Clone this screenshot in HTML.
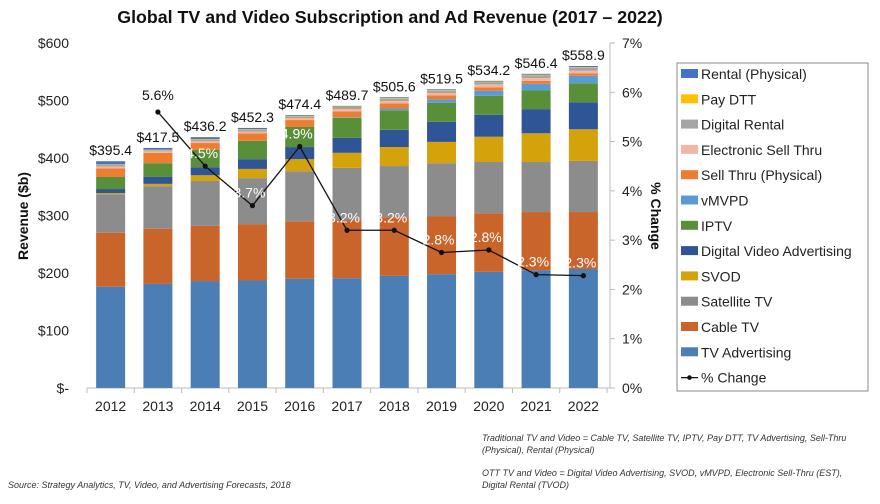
<!DOCTYPE html>
<html><head><meta charset="utf-8"><style>
body{margin:0;background:#fff;font-family:"Liberation Sans",sans-serif}
svg text{font-family:"Liberation Sans",sans-serif}
</style></head><body>
<svg id="c" width="880" height="499" xmlns="http://www.w3.org/2000/svg">
<text x="390" y="23" text-anchor="middle" font-size="17.8" font-weight="bold" fill="#111">Global TV and Video Subscription and Ad Revenue (2017 – 2022)</text>
<text transform="translate(28,216) rotate(-90)" text-anchor="middle" font-size="14" font-weight="bold" fill="#111">Revenue ($b)</text>
<text transform="translate(651,216) rotate(90)" text-anchor="middle" font-size="14" font-weight="bold" fill="#111">% Change</text>
<g id="plot"></g>
<rect x="677" y="63" width="191" height="328" fill="#fff" stroke="#888"/>
<g id="leg"></g>
<text x="8" y="488" font-size="9" font-style="italic" fill="#333">Source: Strategy Analytics, TV, Video, and Advertising Forecasts, 2018</text>
<text x="482" y="441" font-size="9" font-style="italic" fill="#333">Traditional TV and Video = Cable TV, Satellite TV, IPTV, Pay DTT, TV Advertising, Sell-Thru</text>
<text x="482" y="453" font-size="9" font-style="italic" fill="#333">(Physical), Rental (Physical)</text>
<text x="482" y="476" font-size="9" font-style="italic" fill="#333">OTT TV and Video = Digital Video Advertising, SVOD, vMVPD, Electronic Sell-Thru (EST),</text>
<text x="482" y="488" font-size="9" font-style="italic" fill="#333">Digital Rental (TVOD)</text>
</svg>
<script>
const years=["2012","2013","2014","2015","2016","2017","2018","2019","2020","2021","2022"];
const seriesNames=["TV Advertising","Cable TV","Satellite TV","SVOD","Digital Video Advertising","IPTV","vMVPD","Sell Thru (Physical)","Electronic Sell Thru","Digital Rental","Pay DTT","Rental (Physical)"];
const seriesColors=["#4a7eb5","#c9642b","#8c8c8c","#d4a20a","#2f5597","#5a8f3a","#5b9bd5","#ed7d31","#f4b6a3","#a5a5a5","#ffc000","#4472c4"];
const tvAdv=[176,181,186,187,190,191,195,198,202,205,207];
const cable=[94,96,96,98,100,101,102,101,102,101,99];
const satellite=[67,74,78,80,87,91,89,92,89,87,89];
const svod=[2,4,10,16,21,26,33,37,44,50,55];
const dva=[7,12,14,17,21,26,30,35,38,42,47];
const iptv=[21,24,30,32,35,35,34,33,33,33,33];
const vmvpd=[0,0,0,0,0,1,3,6,9,11,13];
const sellThru=[15,18,12,13,12,10,9,7,6,5,4];
const est=[3,2.5,3,3,3,3.7,4,4,5,5,5];
const digRental=[3,2,3,3,3,4,4,4,4,5,5];
const payDTT=[1,1,1,1,1,1,1,1,1,1,1];
const rentalPhys=[5.4,3,3.2,2.3,1.4,1,1.6,1.5,1.2,1.4,1.9];
const totals=["$395.4","$417.5","$436.2","$452.3","$474.4","$489.7","$505.6","$519.5","$534.2","$546.4","$558.9"];
const pctYears=["2013","2014","2015","2016","2017","2018","2019","2020","2021","2022"];
const pctChange=[5.6,4.5,3.7,4.9,3.2,3.2,2.75,2.8,2.3,2.28];
const pctLabels=["5.6%","4.5%","3.7%","4.9%","3.2%","3.2%","2.8%","2.8%","2.3%","2.3%"];
const yTicks=[0,100,200,300,400,500,600];
const yTickLabels=["$-","$100","$200","$300","$400","$500","$600"];
const y2Ticks=[0,1,2,3,4,5,6,7];
const series=[tvAdv,cable,satellite,svod,dva,iptv,vmvpd,sellThru,est,digRental,payDTT,rentalPhys];
const NS="http://www.w3.org/2000/svg";
const X0=87,X1=607,AX=610,Y0=388,Y1=43;
const step=(X1-X0)/years.length,bw=29;
const xc=i=>X0+step*(i+0.5);
const y=v=>Y0-(v/600)*(Y0-Y1);
const y2=v=>Y0-(v/7)*(Y0-Y1);
const plot=document.getElementById('plot');
function mk(t,a,p){const e=document.createElementNS(NS,t);for(const k in a)e.setAttribute(k,a[k]);(p||plot).appendChild(e);return e;}
let ax=mk('line',{x1:X0,y1:Y0,x2:AX,y2:Y0,stroke:'#bbb'});


let ax2=mk('line',{x1:AX,y1:Y1,x2:AX,y2:Y0,stroke:'#bbb'});


yTicks.forEach((t,i)=>{const e=mk('text',{x:69,y:y(t)+5,'text-anchor':'end','font-size':14,fill:'#222'});e.textContent=yTickLabels[i];

});
y2Ticks.forEach(t=>{mk('line',{x1:AX,y1:y2(t),x2:AX+5,y2:y2(t),stroke:'#bbb'});const e=mk('text',{x:622,y:y2(t)+5,'font-size':14,fill:'#222'});e.textContent=t+'%';

});
for(let i=0;i<=years.length;i++)mk('line',{x1:X0+step*i,y1:Y0,x2:X0+step*i,y2:Y0+5,stroke:'#bbb'});
years.forEach((yr,i)=>{const e=mk('text',{x:xc(i),y:411,'text-anchor':'middle','font-size':14,fill:'#222'});e.textContent=yr;

});
years.forEach((yr,i)=>{let acc=0;series.forEach((s,k)=>{const v=s[i];if(v>0){const r=mk('rect',{x:xc(i)-bw/2,y:y(acc+v),width:bw,height:y(acc)-y(acc+v),fill:seriesColors[k]});

}acc+=v;});
const t=mk('text',{x:xc(i),y:y(acc)-6,'text-anchor':'middle','font-size':14,fill:'#111'});t.textContent=totals[i];

});
const pts=pctYears.map((yr,j)=>[xc(years.indexOf(yr)),y2(pctChange[j])]);
const pl=mk('polyline',{points:pts.map(p=>p.join(',')).join(' '),fill:'none',stroke:'#111','stroke-width':1.3});


pts.forEach((p,j)=>{const c=mk('circle',{cx:p[0],cy:p[1],r:2.6,fill:'#111'});


const t=mk('text',{x:p[0]+(j==0?0:-3),y:p[1]-(j==0?12:8),'text-anchor':'middle','font-size':14,fill:j==0?'#111':'#fff'});t.textContent=pctLabels[j];

});
const leg=document.getElementById('leg');
const order=[11,10,9,8,7,6,5,4,3,2,1,0];
order.forEach((k,j)=>{const yy=74+j*25.3;mk('rect',{x:681,y:yy-5,width:17,height:9,fill:seriesColors[k]},leg);
const t=mk('text',{x:701,y:yy+5,'font-size':14,fill:'#222'},leg);t.textContent=seriesNames[k];

});
const ly=74+12*25.3;
mk('line',{x1:681,y1:ly,x2:698,y2:ly,stroke:'#111','stroke-width':1.3},leg);mk('circle',{cx:689.5,cy:ly,r:2.3,fill:'#111'},leg);
const lt=mk('text',{x:701,y:ly+5,'font-size':14,fill:'#222'},leg);lt.textContent='% Change';


</script>
</body></html>
